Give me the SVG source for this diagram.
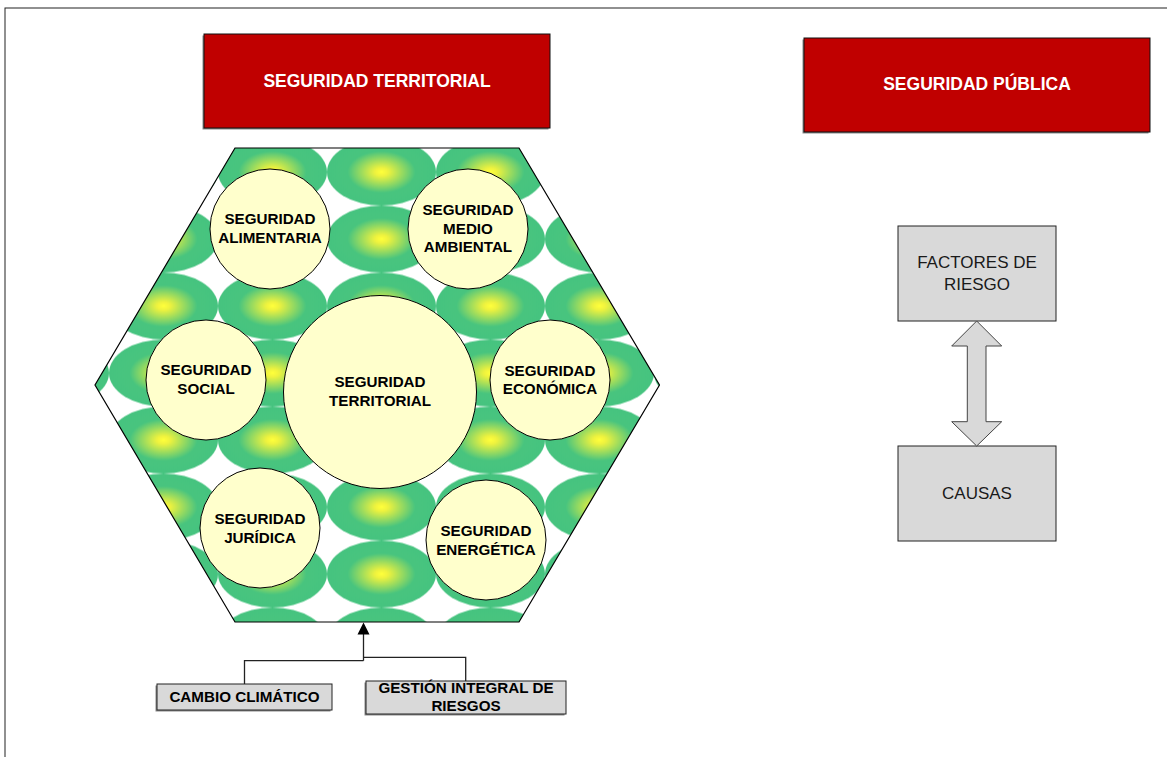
<svg xmlns="http://www.w3.org/2000/svg" width="1167" height="757" viewBox="0 0 1167 757">
<style>
.frame{fill:none;stroke:#222;stroke-width:1}
.red{fill:#C00000;stroke:#111;stroke-width:1}
.shadow{fill:#8a8a8a}
.grey{fill:#D9D9D9;stroke:#222;stroke-width:1}
.circ{fill:#FFFFCC;stroke:#000;stroke-width:1}
.hex{fill:none;stroke:#000;stroke-width:1.2}
.t-red{font-family:"Liberation Sans",Arial,sans-serif;font-weight:bold;font-size:17.5px;fill:#fff;text-anchor:middle}
.t-c{font-family:"Liberation Sans",Arial,sans-serif;font-weight:bold;font-size:15.2px;fill:#000;text-anchor:middle}
.t-g{font-family:"Liberation Sans",Arial,sans-serif;font-size:17px;fill:#1a1a1a;text-anchor:middle}
.conn{fill:none;stroke:#222;stroke-width:1.3}
.dbl{fill:#D9D9D9;stroke:#444;stroke-width:1}
</style>
<defs>
<radialGradient id="gy" cx="0.5" cy="0.5" r="0.5">
<stop offset="0" stop-color="#FFFF3A"/>
<stop offset="0.12" stop-color="#EEF23E"/>
<stop offset="0.62" stop-color="#48C47E"/>
<stop offset="1" stop-color="#46C37F"/>
</radialGradient>
<pattern id="pat" patternUnits="userSpaceOnUse" x="109" y="138.5" width="109" height="67">
<rect width="109" height="67" fill="#fff"/>
<ellipse cx="54.5" cy="33.5" rx="54.5" ry="33.5" fill="url(#gy)"/>
</pattern>
</defs>
<rect x="5" y="8" width="1200" height="800" class="frame"/>
<g id="title-territorial">
<rect x="202.5" y="35.5" width="346" height="94" class="shadow"/>
<rect x="204" y="34" width="346" height="94" class="red"/>
<text x="377" y="87" class="t-red">SEGURIDAD TERRITORIAL</text>
</g>
<g id="title-publica">
<rect x="802.5" y="39.5" width="346" height="94" class="shadow"/>
<rect x="804" y="38" width="346" height="94" class="red"/>
<text x="977" y="90" class="t-red">SEGURIDAD PÚBLICA</text>
</g>
<g id="hexagon">
<polygon points="235,148 519,148 659.5,385 519,622 235,622 95,385" fill="url(#pat)"/>
<polygon points="235,148 519,148 659.5,385 519,622 235,622 95,385" class="hex"/>
</g>
<g id="seg-alimentaria">
<circle cx="270" cy="229" r="60" class="circ"/>
<text x="270" y="224" class="t-c">SEGURIDAD</text>
<text x="270" y="242.5" class="t-c">ALIMENTARIA</text>
</g>
<g id="seg-medio-ambiental">
<circle cx="468" cy="229" r="60" class="circ"/>
<text x="468" y="215.3" class="t-c">SEGURIDAD</text>
<text x="468" y="233.7" class="t-c">MEDIO</text>
<text x="468" y="252" class="t-c">AMBIENTAL</text>
</g>
<g id="seg-social">
<circle cx="206" cy="380" r="60" class="circ"/>
<text x="206" y="375" class="t-c">SEGURIDAD</text>
<text x="206" y="393.7" class="t-c">SOCIAL</text>
</g>
<g id="seg-territorial">
<circle cx="380" cy="392" r="96.5" class="circ"/>
<text x="380" y="387.3" class="t-c">SEGURIDAD</text>
<text x="380" y="406" class="t-c">TERRITORIAL</text>
</g>
<g id="seg-economica">
<circle cx="550" cy="380" r="60" class="circ"/>
<text x="550" y="375.7" class="t-c">SEGURIDAD</text>
<text x="550" y="394.3" class="t-c">ECONÓMICA</text>
</g>
<g id="seg-juridica">
<circle cx="260" cy="528" r="60" class="circ"/>
<text x="260" y="524" class="t-c">SEGURIDAD</text>
<text x="260" y="542.7" class="t-c">JURÍDICA</text>
</g>
<g id="seg-energetica">
<circle cx="486" cy="540" r="60" class="circ"/>
<text x="486" y="536" class="t-c">SEGURIDAD</text>
<text x="486" y="554.7" class="t-c">ENERGÉTICA</text>
</g>
<g id="factores">
<rect x="898" y="226" width="158" height="95" class="grey"/>
<text x="977" y="268.3" class="t-g">FACTORES DE</text>
<text x="977" y="289.5" class="t-g">RIESGO</text>
</g>
<g id="causas">
<rect x="898" y="446" width="158" height="95" class="grey"/>
<text x="977" y="499.3" class="t-g">CAUSAS</text>
</g>
<g id="cambio">
<rect x="155.5" y="685.5" width="175" height="26" class="shadow"/>
<rect x="157" y="684" width="175" height="26" class="grey"/>
<text x="244.5" y="701.7" class="t-c">CAMBIO CLIMÁTICO</text>
</g>
<g id="gestion">
<rect x="364.5" y="682.5" width="200" height="33" class="shadow"/>
<rect x="366" y="681" width="200" height="33" class="grey"/>
<text x="466" y="693.3" class="t-c">GESTIÓN INTEGRAL DE</text>
<text x="466" y="711" class="t-c">RIESGOS</text>
</g>
<g id="connectors">
<polyline points="244.5,684 244.5,660.7 363.5,660.7" class="conn"/>
<polyline points="465.7,681 465.7,657.3 363.5,657.3" class="conn"/>
<line x1="363.5" y1="660.7" x2="363.5" y2="633" class="conn"/>
<polygon points="363.5,622.5 369.5,634.5 357.5,634.5" fill="#000"/>
<polygon points="976.7,321 1001.7,346 986,346 986,421.7 1001.7,421.7 976.7,446 951.7,421.7 967.3,421.7 967.3,346 951.7,346" class="dbl"/>
</g>
</svg>
